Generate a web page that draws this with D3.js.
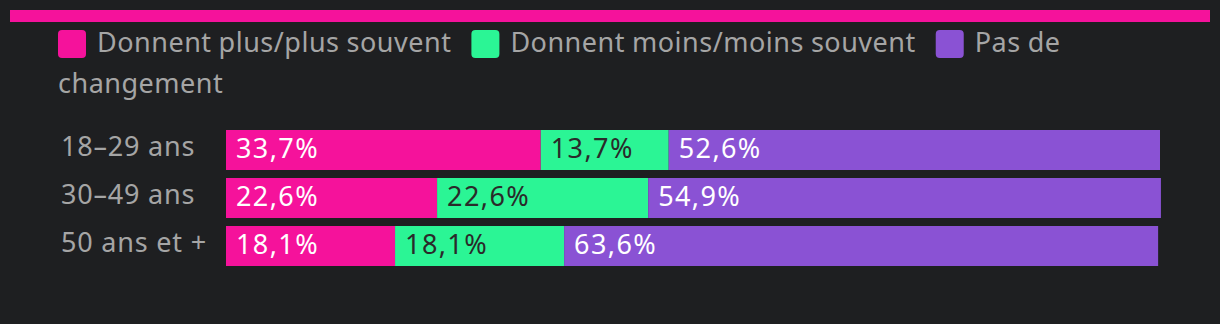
<!DOCTYPE html>
<html>
<head>
<meta charset="utf-8">
<script src="https://cdn.jsdelivr.net/npm/d3@7"></script>
<style>
  body { margin: 0; background: #1e1f21; }
  svg { display: block; font-family: "Noto Sans", sans-serif; letter-spacing: 0.5px; }
  .val { letter-spacing: 1.4px; }
  .grp { letter-spacing: 0.8px; }
</style>
</head>
<body>
<script>
var WIDTH = 1220;
var HEIGHT = 324;

var groups = ["18–29 ans", "30–49 ans", "50 ans et +"];
var seriesNames = ["Donnent plus/plus souvent", "Donnent moins/moins souvent", "Pas de changement"];
var plusValues = [33.7, 22.6, 18.1];
var moinsValues = [13.7, 22.6, 18.1];
var sameValues = [52.6, 54.9, 63.6];
var colors = ["#f5129b", "#2bf595", "#8a52d4"];
var labelColors = ["#ffffff", "#2a2a2a", "#ffffff"];

var FONT = 27;

var svg = d3.select("body")
  .append("svg")
  .attr("width", WIDTH)
  .attr("height", HEIGHT);

svg.append("rect")
  .attr("width", WIDTH)
  .attr("height", HEIGHT)
  .attr("fill", "#1e1f21");

// pink strip at the top
svg.append("rect")
  .attr("x", 10)
  .attr("y", 10)
  .attr("width", 1200)
  .attr("height", 12)
  .attr("fill", colors[0]);

// legend, wrapped like inline html
var legend = svg.append("g");
var lx = 58, ly = 52, lineH = 41, maxX = 1175;
seriesNames.forEach(function (name, i) {
  if (lx + 28 > maxX) { lx = 58; ly += lineH; }
  legend.append("rect")
    .attr("x", lx)
    .attr("y", ly - 22)
    .attr("width", 28)
    .attr("height", 28)
    .attr("rx", 4)
    .attr("fill", colors[i]);
  lx += 39;
  var words = name.split(" ");
  words.forEach(function (w, k) {
    var t = legend.append("text")
      .attr("x", lx)
      .attr("y", ly)
      .attr("font-size", FONT)
      .attr("fill", "#a5a5a5")
      .text(w);
    var wlen = t.node().getComputedTextLength();
    if (lx + wlen > maxX) {
      lx = 58; ly += lineH;
      t.attr("x", lx).attr("y", ly);
    }
    lx += wlen;
    if (k < words.length - 1) lx += FONT * 0.26;
  });
  lx += 20;
});

// bars
var data = groups.map(function (g, i) {
  return { group: g, values: [plusValues[i], moinsValues[i], sameValues[i]] };
});

var x = d3.scaleLinear()
  .domain([0, 100])
  .range([226, 1160]);

var y = d3.scaleBand()
  .domain(groups)
  .range([126, 270])
  .paddingInner(0.1667)
  .paddingOuter(0.0833);

var rows = svg.selectAll("g.row")
  .data(data)
  .enter()
  .append("g")
  .attr("class", "row")
  .attr("transform", function (d) { return "translate(0," + y(d.group) + ")"; });

rows.append("text")
  .attr("class", "grp")
  .attr("x", 61)
  .attr("y", y.bandwidth() / 2 + 6)
  .attr("font-size", FONT)
  .attr("fill", "#a5a5a5")
  .text(function (d) { return d.group; });

var segs = rows.selectAll("g.seg")
  .data(function (d) {
    var acc = 0;
    return d.values.map(function (v, i) {
      var s = { start: acc, value: v, idx: i };
      acc += v;
      return s;
    });
  })
  .enter()
  .append("g")
  .attr("class", "seg");

segs.append("rect")
  .attr("x", function (d) { return x(d.start); })
  .attr("width", function (d) { return x(d.start + d.value) - x(d.start); })
  .attr("height", y.bandwidth())
  .attr("fill", function (d) { return colors[d.idx]; });

segs.append("text")
  .attr("class", "val")
  .attr("x", function (d) { return x(d.start) + 10; })
  .attr("y", y.bandwidth() / 2 + 8)
  .attr("font-size", FONT)
  .attr("fill", function (d) { return labelColors[d.idx]; })
  .text(function (d) { return d3.format(".1f")(d.value).replace(".", ",") + "%"; });
</script>
</body>
</html>
